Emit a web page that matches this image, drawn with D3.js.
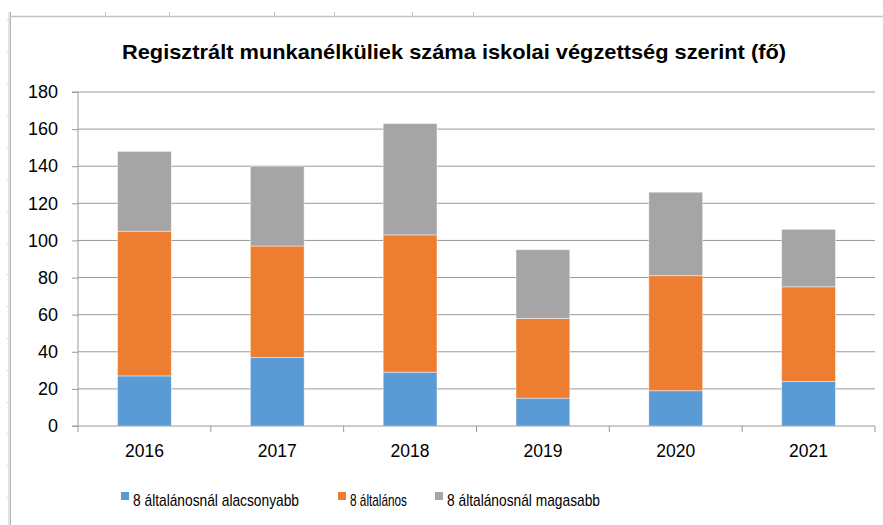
<!DOCTYPE html>
<html>
<head>
<meta charset="utf-8">
<script src="https://cdn.jsdelivr.net/npm/d3@7"></script>
<style>
  body { margin: 0; background: #fff; }
  svg { display: block; }
  text { font-family: "Liberation Sans", Arial, sans-serif; fill: #000; }
</style>
</head>
<body>
<div id="chart"></div>
<script>
const W = 883, H = 525;

// chart data
const years = ["2016", "2017", "2018", "2019", "2020", "2021"];
const seriesNames = ["8 általánosnál alacsonyabb", "8 általános", "8 általánosnál magasabb"];
const belowEight = [27, 37, 29, 15, 19, 24];
const eightGrade = [78, 60, 74, 43, 62, 51];
const aboveEight = [43, 43, 60, 37, 45, 31];
const yTicks = [0, 20, 40, 60, 80, 100, 120, 140, 160, 180];
const colors = ["#5b9bd5", "#ed7d31", "#a5a5a5"];

const plot = {left: 78, right: 875, top: 92, bottom: 426};

let svg = d3.select("#chart")
    .append("svg")
    .attr("width", W)
    .attr("height", H);

// worksheet frame behind the chart
svg.append("rect").attr("x", 8).attr("y", 12).attr("width", 2).attr("height", H - 12).attr("fill", "#e3e3e3");
svg.append("line").attr("x1", 10.5).attr("x2", 10.5).attr("y1", 12).attr("y2", H)
    .attr("stroke", "#b4b4b4").attr("stroke-width", 1);
svg.append("line").attr("x1", 10).attr("x2", W).attr("y1", 16.5).attr("y2", 16.5)
    .attr("stroke", "#c4c4c4").attr("stroke-width", 1.5);
svg.selectAll(".colmark").data([105, 169, 274, 334, 412, 473]).enter()
    .append("line")
    .attr("x1", d => d + 0.5).attr("x2", d => d + 0.5)
    .attr("y1", 12).attr("y2", 16)
    .attr("stroke", "#c4c4c4");
svg.selectAll(".rowmark").data(d3.range(20, H, 31.8)).enter()
    .append("line")
    .attr("x1", 7).attr("x2", 9)
    .attr("y1", d => Math.round(d) + 0.5).attr("y2", d => Math.round(d) + 0.5)
    .attr("stroke", "#d0d0d0");

let x = d3.scaleBand()
    .domain(years)
    .range([plot.left, plot.right])
    .padding(0);

let y = d3.scaleLinear()
    .domain([0, 180])
    .range([plot.bottom, plot.top]);

// gridlines
svg.append("g")
    .selectAll("line")
    .data(yTicks.slice(1))
    .enter()
    .append("line")
    .attr("x1", plot.left).attr("x2", plot.right)
    .attr("y1", d => y(d)).attr("y2", d => y(d))
    .attr("stroke", "#9a9a9a")
    .attr("stroke-width", 1);

// stacked bars
let table = years.map((yr, i) => ({year: yr, a: belowEight[i], b: eightGrade[i], c: aboveEight[i]}));
let stacked = d3.stack().keys(["a", "b", "c"])(table);
let barW = x.bandwidth() * 0.405;

svg.append("g")
    .selectAll("g")
    .data(stacked)
    .enter()
    .append("g")
    .attr("fill", (d, i) => colors[i])
    .selectAll("rect")
    .data(d => d)
    .enter()
    .append("rect")
    .attr("x", d => x(d.data.year) + (x.bandwidth() - barW) / 2)
    .attr("y", d => y(d[1]))
    .attr("width", barW)
    .attr("height", d => y(d[0]) - y(d[1]))
    .attr("stroke", "#ffffff")
    .attr("stroke-opacity", 0.55)
    .attr("stroke-width", 0.8);

// y axis
let yAxis = svg.append("g")
    .attr("transform", `translate(${plot.left},0)`)
    .call(d3.axisLeft(y).tickValues(yTicks).tickSize(6).tickPadding(14));
yAxis.select(".domain").attr("stroke", "#9a9a9a").attr("d", `M-6,${plot.top}H0V${plot.bottom}`);
yAxis.selectAll(".tick line").attr("stroke", "#9a9a9a");
yAxis.selectAll(".tick text")
    .style("font-family", "Liberation Sans, Arial, sans-serif")
    .style("font-size", "18px")
    .attr("fill", "#000");

// x axis
let xAxis = svg.append("g")
    .attr("transform", `translate(0,${plot.bottom})`)
    .call(d3.axisBottom(x).tickSize(0).tickPadding(19));
xAxis.select(".domain").attr("stroke", "#9a9a9a").attr("d", `M${plot.left - 6},0H${plot.right}`);
xAxis.selectAll(".tick text")
    .style("font-family", "Liberation Sans, Arial, sans-serif")
    .style("font-size", "17.5px")
    .attr("fill", "#000");
xAxis.selectAll(".sep")
    .data(years.map(d => x(d)).concat([plot.right]))
    .enter()
    .append("line")
    .attr("x1", d => d).attr("x2", d => d)
    .attr("y1", 0).attr("y2", 6)
    .attr("stroke", "#9a9a9a");

// title
svg.append("text")
    .attr("x", 454)
    .attr("y", 59)
    .attr("text-anchor", "middle")
    .attr("textLength", 664)
    .attr("lengthAdjust", "spacingAndGlyphs")
    .style("font-size", "21px")
    .style("font-weight", "bold")
    .text("Regisztrált munkanélküliek száma iskolai végzettség szerint (fő)");

// legend
const legendX = [121, 338, 435];
const legendW = [166, 57, 153];
let legend = svg.append("g")
    .selectAll("g")
    .data(seriesNames)
    .enter()
    .append("g")
    .attr("transform", (d, i) => `translate(${legendX[i]},492)`);
legend.append("rect")
    .attr("width", 8).attr("height", 8)
    .attr("fill", (d, i) => colors[i]);
legend.append("text")
    .attr("x", 12)
    .attr("y", 14)
    .attr("textLength", (d, i) => legendW[i])
    .attr("lengthAdjust", "spacingAndGlyphs")
    .style("font-size", "17px")
    .text(d => d);
</script>
</body>
</html>
